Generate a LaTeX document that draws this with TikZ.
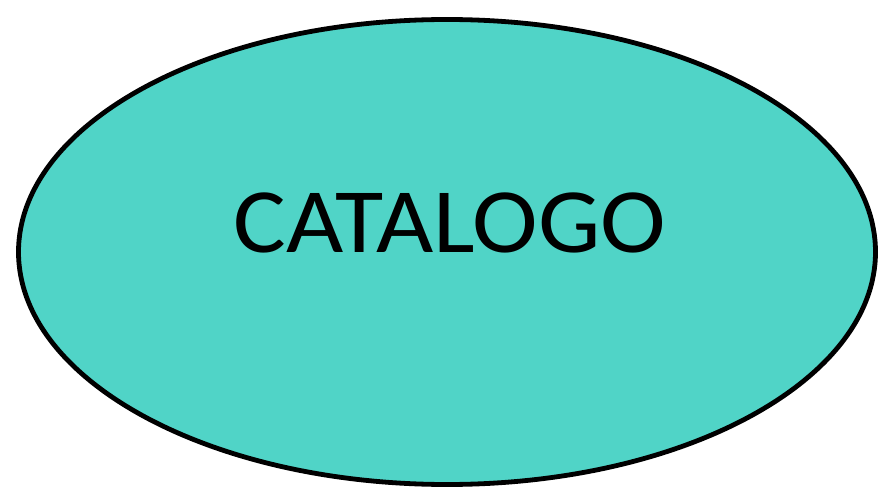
\documentclass[tikz,border=0pt]{standalone}
\usepackage{fontspec}
\setmainfont{Carlito}
\usetikzlibrary{shapes.geometric}
\definecolor{softteal}{RGB}{80,212,199}

\begin{document}
\begin{tikzpicture}[
      x=0.75pt, y=-0.75pt,
      every node/.style={font=\fontsize{69}{80}\selectfont},
      entity/.style={draw, ellipse, line width=3.6pt, fill=softteal, minimum width=642.75pt, minimum height=348.75pt, inner sep=0pt},
      title/.style={inner sep=0pt, anchor=base}
  ]
    \useasboundingbox (0,0) rectangle (888,499);
    \node[entity] (catalogo) at (447,252) {};
    \node[title] (nome) at (450,252) {\scalebox{1.075}[1]{CATALOGO}};
  \end{tikzpicture}
\end{document}
